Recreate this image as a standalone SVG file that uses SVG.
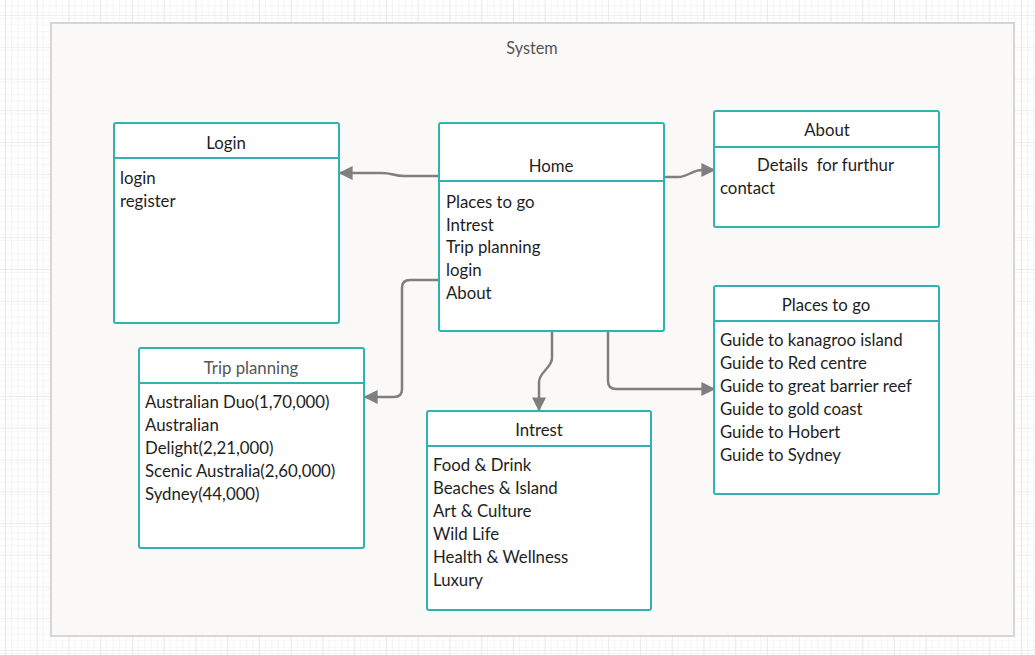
<svg xmlns="http://www.w3.org/2000/svg" width="1035" height="655" viewBox="0 0 1035 655">
<defs>
<pattern id="minor" width="6.35" height="6.35" patternUnits="userSpaceOnUse" x="6" y="3">
<path d="M6.35 0 V6.35 M0 6.35 H6.35" fill="none" stroke="#ececec" stroke-width="1"/>
</pattern>
<pattern id="major" width="31.75" height="31.75" patternUnits="userSpaceOnUse" x="6" y="16">
<rect width="31.75" height="31.75" fill="url(#minor)"/>
<path d="M31.75 0 V31.75 M0 31.75 H31.75" fill="none" stroke="#dedede" stroke-width="1"/>
</pattern>
<marker id="arr" viewBox="0 0 10 10" refX="9" refY="5" markerWidth="5.6" markerHeight="5.6" orient="auto" markerUnits="strokeWidth">
<path d="M0 0 L10 5 L0 10 Z" fill="#7f7f7f"/>
</marker>
<style>
.box{fill:#ffffff;stroke:#2fb2b0;stroke-width:2}
.div{stroke:#2fb2b0;stroke-width:2}
.t{font-family:Lato,"Liberation Sans",sans-serif;font-size:16.8px;fill:#1e1e1e}
.h{font-family:Lato,"Liberation Sans",sans-serif;font-size:16.8px;fill:#1e1e1e;text-anchor:middle}
.c{fill:none;stroke:#7f7f7f;stroke-width:2.5}
</style>
</defs>
<rect width="1035" height="655" fill="#ffffff"/>
<rect width="1035" height="655" fill="url(#major)"/>
<g id="system">
<rect x="51" y="23" width="963" height="613" fill="#faf9f8" stroke="#d6d6d6" stroke-width="2"/>
<text x="532" y="54" font-family="Lato,'Liberation Sans',sans-serif" font-size="16.3" fill="#555555" text-anchor="middle">System</text>
</g>
<g id="connectors">
<path class="c" d="M439 176 L404 176 C394 176 392 173 382 173 L340 173" marker-end="url(#arr)"/>
<path class="c" d="M664 177 L678 177 C688 177 692 170 702 170 L714 170" marker-end="url(#arr)"/>
<path class="c" d="M439 280 L410 280 Q402 280 402 288 L402 389 Q402 397 394 397 L365 397" marker-end="url(#arr)"/>
<path class="c" d="M552 331 L552 358 C552 368 539 372 539 382 L539 410" marker-end="url(#arr)"/>
<path class="c" d="M608 331 L608 381 Q608 389 616 389 L714 389" marker-end="url(#arr)"/>
</g>
<g id="login">
<rect class="box" x="114" y="123" width="225" height="200" rx="2"/>
<line class="div" x1="114" y1="158" x2="339" y2="158"/>
<text class="h" x="226" y="149">Login</text>
<text class="t" x="120" y="184">login</text>
<text class="t" x="120" y="207">register</text>
</g>
<g id="home">
<rect class="box" x="439" y="123" width="225" height="208" rx="2"/>
<line class="div" x1="439" y1="181" x2="664" y2="181"/>
<text class="h" x="551" y="172">Home</text>
<text class="t" x="446" y="208">Places to go</text>
<text class="t" x="446" y="231">Intrest</text>
<text class="t" x="446" y="253">Trip  planning</text>
<text class="t" x="446" y="276">login</text>
<text class="t" x="446" y="299">About</text>
</g>
<g id="about">
<rect class="box" x="714" y="111" width="225" height="116" rx="2"/>
<line class="div" x1="714" y1="147" x2="939" y2="147"/>
<text class="h" x="827" y="136">About</text>
<text class="t" x="757" y="171" xml:space="preserve">Details  for furthur</text>
<text class="t" x="720" y="194">contact</text>
</g>
<g id="places">
<rect class="box" x="714" y="286" width="225" height="208" rx="2"/>
<line class="div" x1="714" y1="321" x2="939" y2="321"/>
<text class="h" x="826" y="311">Places to go</text>
<text class="t" x="720" y="346">Guide to kanagroo island</text>
<text class="t" x="720" y="369">Guide to Red centre</text>
<text class="t" x="720" y="392">Guide to great barrier reef</text>
<text class="t" x="720" y="415">Guide to gold coast</text>
<text class="t" x="720" y="438">Guide to Hobert</text>
<text class="t" x="720" y="461">Guide to Sydney</text>
</g>
<g id="trip">
<rect class="box" x="139" y="348" width="225" height="200" rx="2"/>
<line class="div" x1="139" y1="383" x2="364" y2="383"/>
<text class="h" x="251" y="374" style="fill:#555555">Trip  planning</text>
<text class="t" x="145" y="408">Australian Duo(1,70,000)</text>
<text class="t" x="145" y="431">Australian</text>
<text class="t" x="145" y="454">Delight(2,21,000)</text>
<text class="t" x="145" y="477">Scenic Australia(2,60,000)</text>
<text class="t" x="145" y="500">Sydney(44,000)</text>
</g>
<g id="intrest">
<rect class="box" x="427" y="411" width="224" height="199" rx="2"/>
<line class="div" x1="427" y1="446" x2="651" y2="446"/>
<text class="h" x="539" y="436">Intrest</text>
<text class="t" x="433" y="471">Food &amp; Drink</text>
<text class="t" x="433" y="494">Beaches &amp; Island</text>
<text class="t" x="433" y="517">Art &amp; Culture</text>
<text class="t" x="433" y="540">Wild Life</text>
<text class="t" x="433" y="563">Health &amp; Wellness</text>
<text class="t" x="433" y="586">Luxury</text>
</g>
</svg>
